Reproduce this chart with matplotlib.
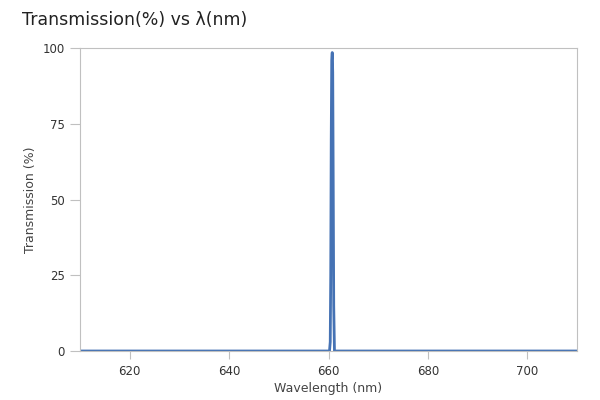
import matplotlib.pyplot as plt

wavelength = [610, 660.2, 660.35, 660.45, 660.55, 660.65, 660.75, 660.85, 660.95, 661.05, 661.2, 710]
transmission = [0, 0, 3, 25, 70, 96, 98.5, 92, 55, 15, 0, 0]

x_ticks = [620, 640, 660, 680, 700]
y_ticks = [0, 25, 50, 75, 100]

fig = plt.figure(figsize=(6, 4), dpi=100)
ax = fig.add_axes([0.1333, 0.1225, 0.8284, 0.7575])

ax.plot(wavelength, transmission, color='#4572b4', linewidth=2)
ax.set_xlim(610, 710)
ax.set_ylim(0, 100)
ax.set_xticks(x_ticks)
ax.set_yticks(y_ticks)

for side in ['top', 'right', 'left', 'bottom']:
    ax.spines[side].set_color('#c0c0c0')
    ax.spines[side].set_linewidth(0.8)

ax.tick_params(axis='y', colors='#c0c0c0', labelcolor='#333333', labelsize=8.5, length=7, pad=4)
ax.tick_params(axis='x', colors='#c0c0c0', labelcolor='#333333', labelsize=8.5, length=6, pad=4)

ax.set_xlabel('Wavelength (nm)', fontsize=9, color='#444444', labelpad=3)
ax.set_ylabel('Transmission (%)', fontsize=9, color='#444444', labelpad=4)

fig.text(0.037, 0.95, 'Transmission(%) vs λ(nm)', fontsize=12.5, color='#222222', va='center', ha='left')

fig.savefig('out.png')
